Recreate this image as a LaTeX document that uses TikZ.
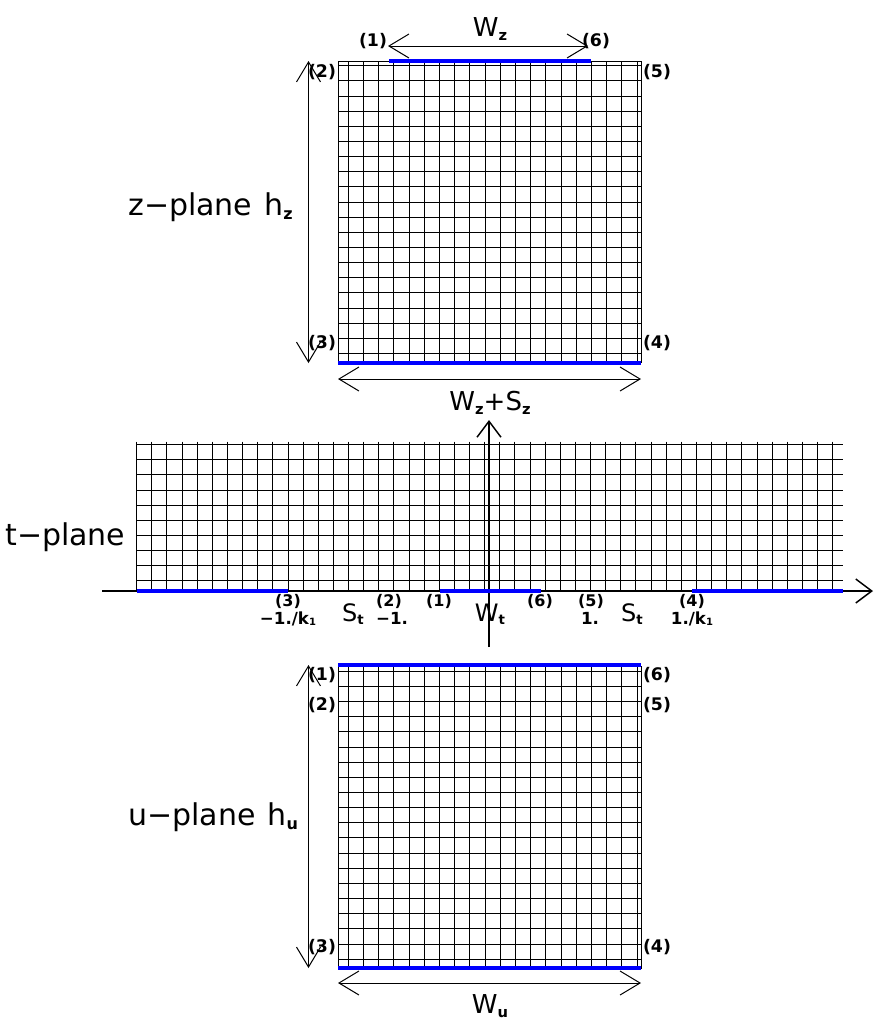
\documentclass[tikz,border=0pt]{standalone}
\usepackage{fontspec}
\setmainfont{DejaVu Sans}
\usetikzlibrary{arrows.meta}
\definecolor{pblue}{RGB}{0,0,255}
\newcommand\subA[1]{\raisebox{-0.3ex}{\fontsize{12}{12}\selectfont\bfseries #1}}
\newcommand\subB[1]{\raisebox{-0.3ex}{\fontsize{11}{11}\selectfont\bfseries #1}}
\newcommand\subC[1]{\raisebox{-0.3ex}{\fontsize{10}{10}\selectfont\bfseries #1}}
\newcommand\subD[1]{\raisebox{-0.2ex}{\fontsize{7.5}{7.5}\selectfont\bfseries #1}}
\begin{document}
\begin{tikzpicture}[x=0.75pt,y=-0.75pt,
  gridline/.style={line width=0.75pt, black},
  bluebar/.style={line width=3pt, pblue},
  dimarr/.style={{Straight Barb[length=15pt,width=18pt]}-{Straight Barb[length=15pt,width=18pt]}, line width=0.75pt},
  axisarr/.style={-{Straight Barb[length=12pt,width=18pt]}, line width=1.1pt},
  plab/.style={font=\fontsize{13}{14}\selectfont\bfseries, inner sep=0pt},
  tplab/.style={font=\fontsize{12}{13}\selectfont\bfseries, inner sep=0pt},
  vlab/.style={font=\fontsize{12.5}{13}\selectfont\bfseries, inner sep=0pt, anchor=base},
  biglab/.style={font=\fontsize{22.5}{24}\selectfont, inner sep=0pt, anchor=base west},
  wlab/.style={font=\fontsize{19.5}{21}\selectfont, inner sep=0pt, anchor=base},
  slab/.style={font=\fontsize{18}{19}\selectfont, inner sep=0pt, anchor=base}]
\useasboundingbox (0,0) rectangle (875,1025);

% ---------- z-plane grid ----------
\draw[gridline] (338,61) rectangle (641,362);
\foreach \k in {0,...,19} {
  \draw[gridline] ({348.3+15.2*\k},61) -- ({348.3+15.2*\k},362);
  \draw[gridline] (338,{65.7+15.15*\k}) -- (641,{65.7+15.15*\k});
}
% ---------- u-plane grid ----------
\draw[gridline] (338,666) rectangle (641,968);
\foreach \k in {0,...,19} {
  \draw[gridline] ({348.3+15.2*\k},666) -- ({348.3+15.2*\k},968);
  \draw[gridline] (338,{671.3+15.15*\k}) -- (641,{671.3+15.15*\k});
}
% ---------- t-plane grid ----------
\foreach \k in {0,...,46} {
  \draw[gridline] ({136.7+15.13*\k},441.5) -- ({136.7+15.13*\k},591);
}
\foreach \k in {0,...,9} {
  \draw[gridline] (136.7,{444.7+15.1*\k}) -- (842.5,{444.7+15.1*\k});
}
% axes
\coordinate (xa0) at (102,591);
\coordinate (xa1) at (873,591);
\coordinate (ya0) at (489,647);
\coordinate (ya1) at (489,420);
\draw[axisarr] (xa0) -- (xa1);
\draw[axisarr] (ya0) -- (ya1);

% ---------- blue boundary segments ----------
\draw[bluebar] (389,61) -- (591,61);
\draw[bluebar] (338,363) -- (641,363);
\draw[bluebar] (137,591) -- (288,591);
\draw[bluebar] (440,591) -- (541,591);
\draw[bluebar] (692,591) -- (843,591);
\draw[bluebar] (338,665) -- (641,665);
\draw[bluebar] (338,968) -- (641,968);

% ---------- labels: z-plane ----------
\node[wlab] (wz) at (490,36) {W\subB{z}};
\node[plab] (z1) at (373,41) {(1)};
\node[plab] (z6) at (596,41) {(6)};
\node[plab] (z2) at (322,72) {(2)};
\node[plab] (z5) at (657,72) {(5)};
\node[plab] (z3) at (322,343) {(3)};
\node[plab] (z4) at (657,343) {(4)};
\node[biglab] (zname) at (128,215) {z−plane\hspace{0.4em}h\subA{z}};
\node[wlab] (wzsz) at (490,410) {W\subB{z}+S\subB{z}};

% ---------- labels: t-plane ----------
\node[biglab] (tname) at (5,545) {t−plane};
\node[tplab] (t3) at (288,601) {(3)};
\node[tplab] (t2) at (389,601) {(2)};
\node[tplab] (t1) at (439,601) {(1)};
\node[tplab] (t6) at (540,601) {(6)};
\node[tplab] (t5) at (591,601) {(5)};
\node[tplab] (t4) at (692,601) {(4)};
\node[vlab] (vmk) at (288,624) {−1./k\subD{1}};
\node[slab] (st1) at (353,621) {S\subC{t}};
\node[vlab] (vm1) at (392,624) {−1.};
\node[slab] (wt) at (490,621) {W\subC{t}};
\node[vlab] (vp1) at (590,624) {1.};
\node[slab] (st2) at (632,621) {S\subC{t}};
\node[vlab] (vpk) at (692,624) {1./k\subD{1}};

% ---------- labels: u-plane ----------
\node[plab] (u1) at (322,675) {(1)};
\node[plab] (u6) at (657,675) {(6)};
\node[plab] (u2) at (322,705) {(2)};
\node[plab] (u5) at (657,705) {(5)};
\node[plab] (u3) at (322,947) {(3)};
\node[plab] (u4) at (657,947) {(4)};
\node[biglab] (uname) at (128,825) {u−plane\hspace{0.4em}h\subA{u}};
\node[wlab] (wu) at (490,1013) {W\subB{u}};

% ---------- dimension arrows ----------
\coordinate (hz0) at (308.5,61);
\coordinate (hz1) at (308.5,363);
\coordinate (wz0) at (388,46);
\coordinate (wz1) at (588,46);
\coordinate (ws0) at (338,379);
\coordinate (ws1) at (641,379);
\coordinate (hu0) at (308.5,665);
\coordinate (hu1) at (308.5,968);
\coordinate (wu0) at (338,983);
\coordinate (wu1) at (641,983);
\draw[dimarr] (hz0) -- (hz1);
\draw[dimarr] (wz0) -- (wz1);
\draw[dimarr] (ws0) -- (ws1);
\draw[dimarr] (hu0) -- (hu1);
\draw[dimarr] (wu0) -- (wu1);
\end{tikzpicture}
\end{document}
